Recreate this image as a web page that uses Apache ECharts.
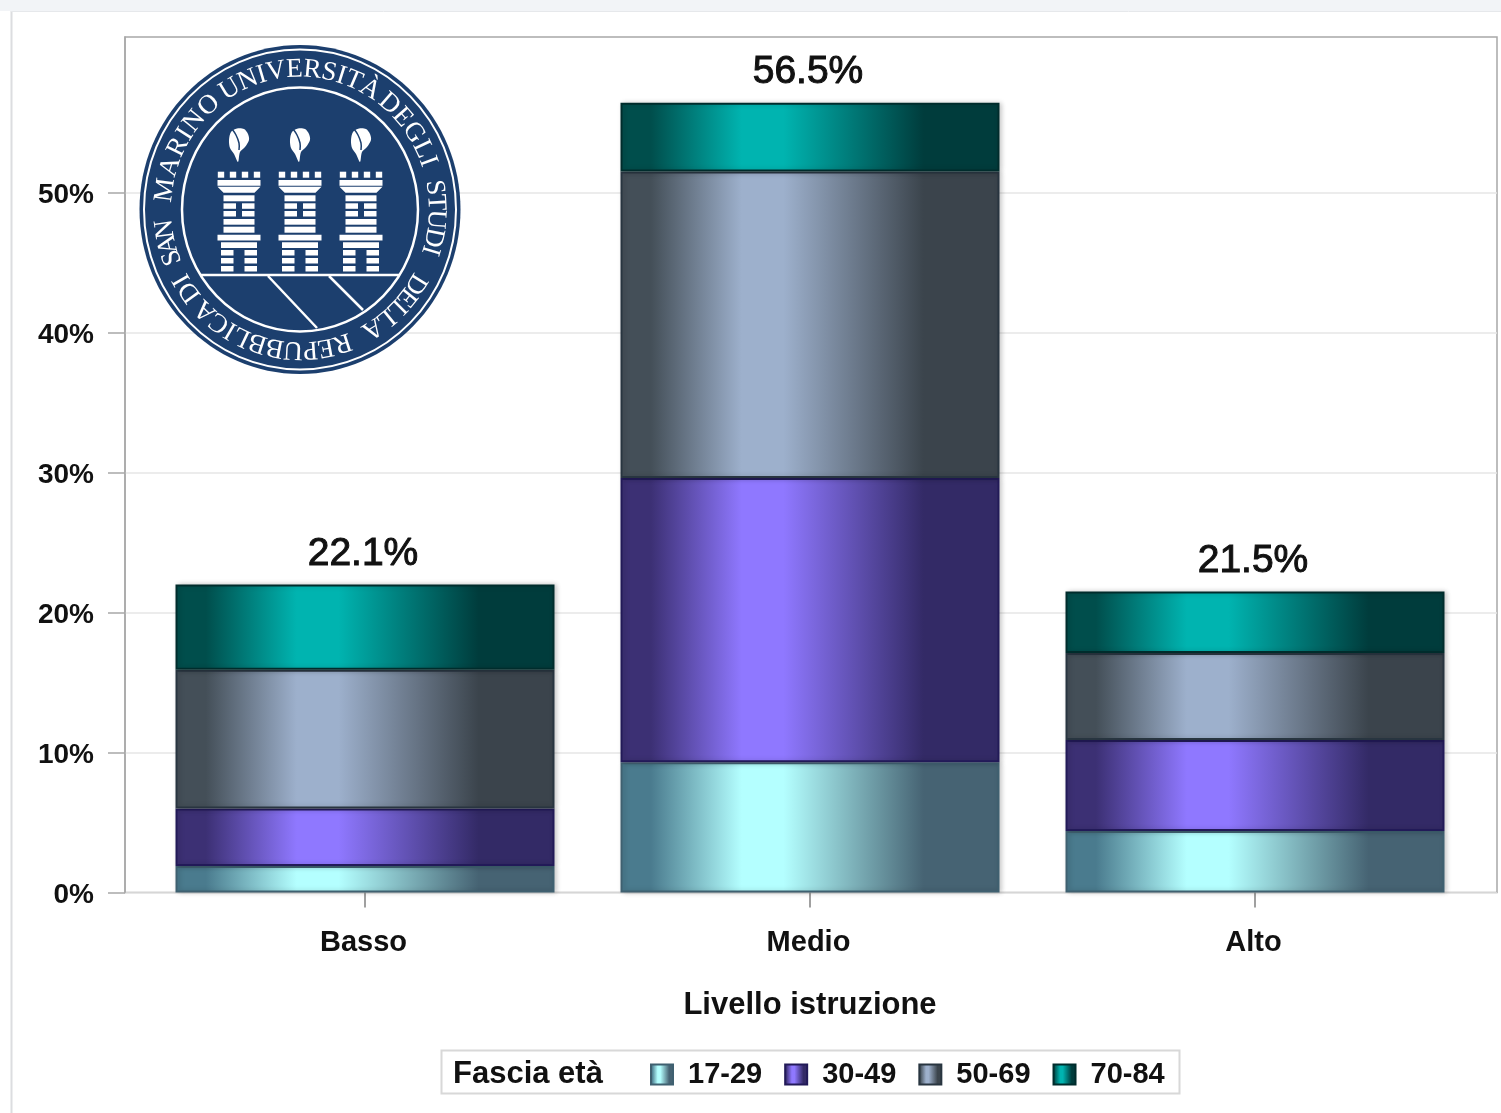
<!DOCTYPE html>
<html>
<head>
<meta charset="utf-8">
<title>Livello istruzione</title>
<style>
html, body { margin: 0; padding: 0; background: #fff; }
#main { width: 1501px; height: 1113px; }
</style>
<script src="https://cdn.jsdelivr.net/npm/echarts@6/dist/echarts.min.js"></script>
</head>
<body>
<div id="main"></div>
<script>
const categories = ['Basso', 'Medio', 'Alto']
const ageGroups = ['17-29', '30-49', '50-69', '70-84']
const age1729 = [1.9, 9.3, 4.4]
const age3049 = [4.1, 20.3, 6.5]
const age5069 = [9.9, 21.9, 6.2]
const age7084 = [6.1, 4.9, 4.4]
const totals = ['22.1%', '56.5%', '21.5%']
const yTicks = [0, 10, 20, 30, 40, 50]
const yMax = 61.1
// words of the seal with the angle (degrees, clockwise from the top) where they start and end
const sealWords = [
    ['UNIVERSITÀ', -31, 31],
    ['DEGLI', 41, 70],
    ['STUDI', 81, 107],
    ['DELLA', 122, 148],
    ['REPUBBLICA', 162, 224],
    ['DI', 234, 240],
    ['SAN', 250, 262],
    ['MARINO', 278, 318]
]

const font = '"Liberation Sans", Arial, sans-serif'
const navy = '#1c3f6e'

function shade(edgeLeft, peak, edgeRight) {
    return {
        type: 'linear', x: 0, y: 0, x2: 1, y2: 0,
        colorStops: [
            { offset: 0, color: edgeLeft },
            { offset: 0.08, color: edgeLeft },
            { offset: 0.32, color: peak },
            { offset: 0.43, color: peak },
            { offset: 0.8, color: edgeRight },
            { offset: 1, color: edgeRight }
        ]
    }
}

const groupStyles = [
    { color: shade('#4a7b8e', '#b4ffff', '#466373'), borderColor: '#3f6070' },
    { color: shade('#3c3074', '#8f78ff', '#332a66'), borderColor: '#221a58' },
    { color: shade('#444f58', '#9db0cc', '#3b444c'), borderColor: '#283540' },
    { color: shade('#004e4c', '#00b4b0', '#003c3c'), borderColor: '#002c2c' }
]
const groupValues = [age1729, age3049, age5069, age7084]

const series = ageGroups.map((name, i) => ({
    name: name,
    type: 'bar',
    stack: 'total',
    xAxisIndex: 1,
    yAxisIndex: 1,
    barWidth: 379,
    data: groupValues[i],
    itemStyle: {
        color: groupStyles[i].color,
        borderColor: groupStyles[i].borderColor,
        borderWidth: 2,
        shadowBlur: 5,
        shadowOffsetX: 2,
        shadowColor: 'rgba(0,0,0,0.2)'
    },
    label: i === 3 ? {
        show: true,
        position: 'top',
        distance: 11,
        offset: [-2, 0],
        formatter: (p) => totals[p.dataIndex],
        fontFamily: font,
        fontSize: 39,
        color: '#111',
        textBorderColor: '#111',
        textBorderWidth: 1
    } : { show: false }
}))

// logo, drawn with plain shapes around its centre
const sealX = 300
const sealY = 209.5

function towerParts(cx) {
    const white = { fill: '#fff' }
    const parts = []
    const box = (x, y, w, h) => parts.push({
        type: 'rect', shape: { x: cx + x, y: y, width: w, height: h }, style: white
    })
    const bar = (y, h, w) => box(-w / 2, y, w, h)
    // battlements
    for (const dx of [-18, -6, 6, 18]) {
        box(dx - 3.2, 171.7, 6.4, 6)
    }
    bar(180, 5.7, 43)
    parts.push({
        type: 'polygon',
        shape: { points: [[cx - 21.5, 186.7], [cx + 21.5, 186.7], [cx + 15.5, 192.7], [cx - 15.5, 192.7]] },
        style: white
    })
    bar(195.3, 6, 31)
    // window row, split by the dark square
    for (const y of [203.3, 211]) {
        box(-15.5, y, 12.5, 5.5)
        box(3, y, 12.5, 5.5)
    }
    bar(219, 5.7, 31)
    bar(226.7, 6, 31)
    bar(234.7, 5.7, 43)
    bar(242.3, 5.7, 36)
    // legs of the door
    for (const y of [250, 258, 266]) {
        box(-18, y, 12.5, 5.5)
        box(5.5, y, 12.5, 5.5)
    }
    parts.push({
        type: 'polygon',
        shape: { points: [[cx - 1, 162], [cx - 5, 154], [cx - 9, 148], [cx - 10, 140], [cx - 8, 132], [cx - 2, 128.5], [cx + 5, 129], [cx + 9, 134], [cx + 10, 140], [cx + 6, 147], [cx + 1, 152]], smooth: 0.3 },
        style: white
    })
    parts.push({
        type: 'polyline',
        shape: { points: [[cx - 7, 129], [cx - 3, 135], [cx, 143], [cx, 150]], smooth: 0.4 },
        style: { stroke: navy, lineWidth: 1.5, fill: 'none' }
    })
    return parts
}

function sealLetters() {
    const sealFont = '27px "Liberation Serif", serif'
    const ctx = document.createElement('canvas').getContext('2d')
    ctx.font = sealFont
    const parts = []
    sealWords.forEach(([word, from, to]) => {
        // spread the letters over the word's arc by their own widths
        const chars = Array.from(word)
        const widths = chars.map((ch) => ctx.measureText(ch).width)
        const runs = []
        let run = 0
        chars.forEach((ch, k) => {
            if (k > 0) run += (widths[k - 1] + widths[k]) / 2
            runs.push(run)
        })
        chars.forEach((ch, k) => {
            const a = (from + (to - from) * runs[k] / (run || 1)) * Math.PI / 180
            parts.push({
                type: 'text',
                x: sealX + Math.sin(a) * 136,
                y: sealY - Math.cos(a) * 140,
                rotation: -a,
                style: { text: ch, fill: '#fff', font: sealFont, align: 'center', verticalAlign: 'middle' }
            })
        })
    })
    return parts
}

const logo = [
    { type: 'ellipse', shape: { cx: sealX, cy: sealY, rx: 160.5, ry: 164.5 }, style: { fill: navy } },
    { type: 'ellipse', shape: { cx: sealX, cy: sealY, rx: 156, ry: 160 }, style: { fill: 'none', stroke: '#fff', lineWidth: 2 } },
    { type: 'ellipse', shape: { cx: sealX, cy: sealY, rx: 118, ry: 122 }, style: { fill: 'none', stroke: '#fff', lineWidth: 2.5 } },
    { type: 'line', shape: { x1: 201, y1: 275, x2: 399, y2: 275 }, style: { stroke: '#fff', lineWidth: 2.5 } },
    { type: 'line', shape: { x1: 268, y1: 276, x2: 317, y2: 328 }, style: { stroke: '#fff', lineWidth: 2.5 } },
    { type: 'line', shape: { x1: 329, y1: 276, x2: 363, y2: 310 }, style: { stroke: '#fff', lineWidth: 2.5 } },
    ...towerParts(239),
    ...towerParts(300),
    ...towerParts(361),
    ...sealLetters()
]

const pageFrame = [
    { type: 'rect', shape: { x: 0, y: 0, width: 1501, height: 11 }, style: { fill: '#f2f4f7' } },
    { type: 'line', shape: { x1: 11.5, y1: 11, x2: 11.5, y2: 1113 }, style: { stroke: '#dcdde0', lineWidth: 2 } },
    { type: 'line', shape: { x1: 11, y1: 11.5, x2: 1501, y2: 11.5 }, style: { stroke: '#e6e8eb', lineWidth: 1 } }
]

const legendBox = [
    { type: 'rect', shape: { x: 441.5, y: 1050.5, width: 738, height: 43 }, style: { fill: 'none', stroke: '#d8d8d8', lineWidth: 2 } },
    {
        type: 'text', x: 453, y: 1074,
        style: { text: 'Fascia età', fill: '#111', font: 'bold 31px ' + font, align: 'left', verticalAlign: 'middle' }
    }
]

const option = {
    animation: false,
    backgroundColor: '#fff',
    grid: [
        // frame, gridlines and the y scale
        { left: 125, top: 37, width: 1372, height: 855.5, show: true, borderColor: '#a8a8a8', borderWidth: 1.5, backgroundColor: 'transparent' },
        // the bars sit in a slightly narrower band than the frame
        { left: 142.5, top: 37, width: 1335, height: 855.5 }
    ],
    xAxis: [
        { type: 'value', gridIndex: 0, min: 0, max: 1, show: false },
        {
            type: 'category',
            gridIndex: 1,
            data: categories,
            name: 'Livello istruzione',
            nameLocation: 'middle',
            nameGap: 97,
            nameTextStyle: { fontFamily: font, fontSize: 31, fontWeight: 'bold', color: '#111' },
            axisLine: { show: false },
            axisTick: { show: true, alignWithLabel: true, length: 15, lineStyle: { color: '#a0a0a0', width: 2 } },
            axisLabel: { margin: 36, padding: [0, 3, 0, 0], fontFamily: font, fontSize: 29, fontWeight: 'bold', color: '#111' }
        }
    ],
    yAxis: [
        {
            type: 'value',
            gridIndex: 0,
            min: 0,
            max: yMax,
            axisLine: { show: true, lineStyle: { color: '#a8a8a8', width: 1.5 } },
            axisTick: { show: true, length: 17, customValues: yTicks, lineStyle: { color: '#a8a8a8', width: 1.5 } },
            axisLabel: {
                customValues: yTicks,
                margin: 31,
                formatter: (v) => `{t|${v}%}`,
                rich: { t: { padding: [6, 0, 0, 0], fontFamily: font, fontSize: 28, fontWeight: 'bold', color: '#111' } }
            },
            splitLine: { show: true, lineStyle: { color: '#e6e6e6', width: 1.5 } }
        },
        { type: 'value', gridIndex: 1, min: 0, max: yMax, show: false }
    ],
    legend: {
        data: ageGroups.map((name) => ({ name: name, icon: 'rect' })),
        left: 650,
        top: 1060,
        padding: 0,
        itemWidth: 22,
        itemHeight: 20,
        itemGap: 22,
        selectedMode: false,
        textStyle: { fontFamily: font, fontSize: 29, fontWeight: 'bold', color: '#111', padding: [0, 0, 0, 10] }
    },
    series: series,
    graphic: { elements: [...pageFrame, ...logo, ...legendBox].map((el) => ({ ...el, z: 10 })) }
}

const chart = echarts.init(document.getElementById('main'))
chart.setOption(option)
</script>
</body>
</html>
